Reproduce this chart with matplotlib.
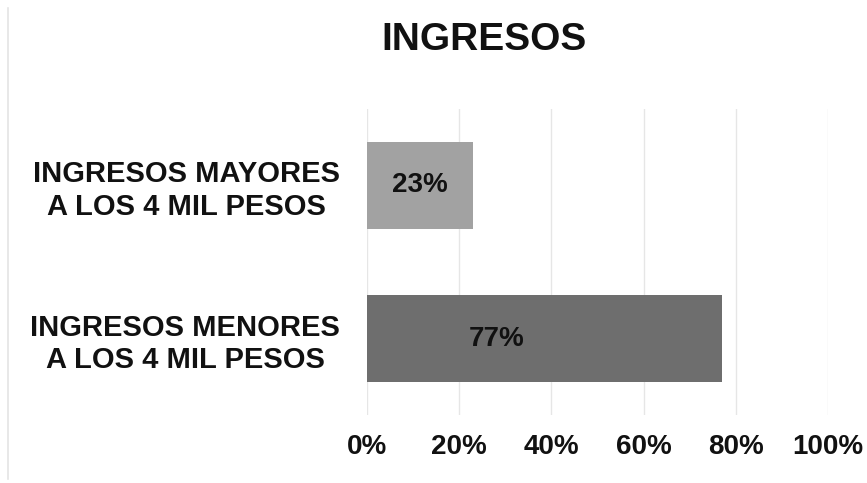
import matplotlib
matplotlib.use("Agg")
import matplotlib.pyplot as plt
from matplotlib.lines import Line2D

plt.rcParams['font.family'] = ['Liberation Sans', 'DejaVu Sans']

# datos
categorias = ['INGRESOS MENORES\nA LOS 4 MIL PESOS', 'INGRESOS MAYORES\nA LOS 4 MIL PESOS']
valores = [77, 23]
colores = ['#6e6e6e', '#a2a2a2']
etiquetas = ['77%', '23%']
pos_etiqueta = [0.366, 0.5]   # fraccion de la barra donde va el texto
ticks_x = [0, 20, 40, 60, 80, 100]

fig = plt.figure(figsize=(8.67, 4.83), dpi=100)
ax = fig.add_axes([367/867, 68/483, 461/867, 306/483])

ax.barh(range(len(valores)), valores, height=0.57, color=colores, zorder=2)
for i, v in enumerate(valores):
    ax.text(v*pos_etiqueta[i], i, etiquetas[i], ha='center', va='center',
            fontsize=20, fontweight='bold', color='#111111', zorder=3)

ax.set_xlim(0, 100)
ax.set_ylim(-0.5, 1.5)
ax.set_xticks(ticks_x)
ax.set_xticklabels([f'{t}%' for t in ticks_x], fontsize=20, fontweight='bold', color='#111111')
ax.set_yticks(range(len(categorias)))
ax.set_yticklabels(categorias, fontsize=21, fontweight='bold', color='#111111',
                   linespacing=1.2)
for t in ax.get_yticklabels():
    t.set_multialignment('center')
ax.tick_params(axis='x', length=0, pad=14)
ax.tick_params(axis='y', length=0, pad=19.5)
ax.grid(axis='x', color='#e6e6e6', linewidth=1, zorder=0)
for s in ax.spines.values():
    s.set_visible(False)

fig.text(484/867, 1 - 40/483, 'INGRESOS', ha='center', va='center',
         fontsize=28, fontweight='bold', color='#111111')

# borde tenue del area del grafico
fig.add_artist(Line2D([8/867, 8/867], [4/483, 1 - 8/483], color='#e4e4e4', linewidth=1.2))

fig.savefig('out.png', dpi=100)
